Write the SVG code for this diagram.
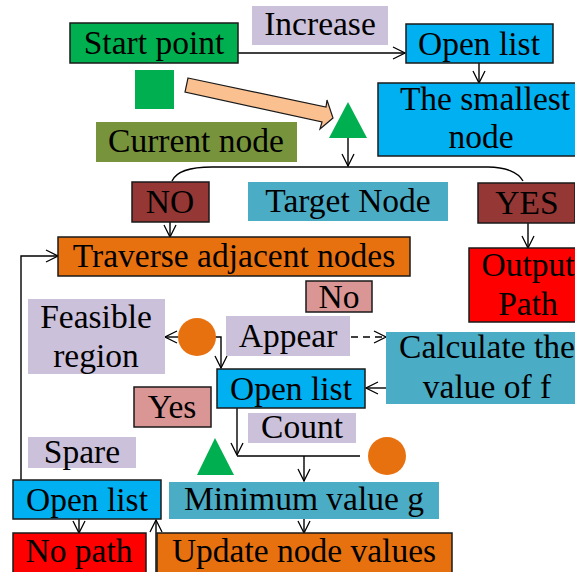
<svg xmlns="http://www.w3.org/2000/svg" width="575" height="572" viewBox="0 0 575 572">
  <defs>
    <marker id="arr" viewBox="0 0 14 14" refX="13" refY="7" markerWidth="14" markerHeight="14" markerUnits="userSpaceOnUse" orient="auto">
      <path d="M1,1 L13,7 L1,13" fill="none" stroke="#000" stroke-width="1.3"/>
    </marker>
    <style>
      text { font-size: 33.5px; fill: #000; text-anchor: middle; }
      .box { stroke: #1a1a1a; stroke-width: 1.5; }
      .green { fill: #00B050; }
      .blue { fill: #00B0F0; }
      .olive { fill: #77933C; }
      .brown { fill: #953735; }
      .teal { fill: #4BACC6; }
      .orange { fill: #E8710F; }
      .red { fill: #FF0000; }
      .lav { fill: #CCC1DA; }
      .pink { fill: #DA9694; }
      .link { fill: none; stroke: #000; stroke-width: 1.4; }
    </style>
  </defs>
  <rect width="575" height="572" fill="#fff"/>

  <!-- connectors -->
  <g id="connectors">
    <path class="link" d="M238,53 H405" marker-end="url(#arr)"/>
    <path class="link" d="M479,63 V83" marker-end="url(#arr)"/>
    <path class="link" d="M348,138 V166" marker-end="url(#arr)"/>
    <path class="link" d="M172,181 C176,172 190,167 212,167 H488 C505,167 518,172 523,181"/>
    <path class="link" d="M170,222 V237" marker-end="url(#arr)"/>
    <path class="link" d="M528,223 V248" marker-end="url(#arr)"/>
    <path class="link" d="M21,480 V256 H58" marker-end="url(#arr)"/>
    <path class="link" d="M178,337 H165" marker-end="url(#arr)"/>
    <path class="link" d="M215,337 H221 V368" marker-end="url(#arr)"/>
    <path class="link" d="M351,337 H386" stroke-dasharray="7,5" marker-end="url(#arr)"/>
    <path class="link" d="M386,388 H366" marker-end="url(#arr)"/>
    <path class="link" d="M237,408 V455" marker-end="url(#arr)"/>
    <path class="link" d="M237,456 H360"/>
    <path class="link" d="M304,456 V481" marker-end="url(#arr)"/>
    <path class="link" d="M304,519 V533" marker-end="url(#arr)"/>
    <path class="link" d="M79,519 V533" marker-end="url(#arr)"/>
    <path class="link" d="M156,572 V520" marker-end="url(#arr)"/>
  </g>

  <!-- decorative shapes -->
  <g id="shapes">
    <rect class="green" x="135" y="70" width="39" height="39"/>
    <polygon points="188,78 326,107 327,100 333,118 320,129 322,122 185,92" fill="#FAC090" stroke="#1a1a1a" stroke-width="1.2"/>
    <polygon class="green" points="348,102 367,138 329,138"/>
    <circle class="orange" cx="197" cy="337" r="19"/>
    <polygon class="green" points="215,438 234,475 197,475"/>
    <circle class="orange" cx="387" cy="456" r="19"/>
  </g>

  <g font-family="'Liberation Serif', 'Times New Roman', Times, serif">
  <g id="start-point">
    <rect class="box green" x="70" y="23" width="168" height="40"/>
    <text x="154" y="54">Start point</text>
  </g>
  <g id="increase">
    <rect class="lav" x="252" y="6" width="136" height="39"/>
    <text x="320" y="35">Increase</text>
  </g>
  <g id="open-list-top">
    <rect class="box blue" x="406" y="24" width="147" height="39"/>
    <text x="479" y="55">Open list</text>
  </g>
  <g id="smallest-node">
    <rect class="box blue" x="378" y="83" width="199" height="73"/>
    <text x="485" y="110">The smallest</text>
    <text x="481" y="148">node</text>
  </g>
  <g id="current-node">
    <rect class="olive" x="96" y="122" width="201" height="40"/>
    <text x="196" y="152">Current node</text>
  </g>
  <g id="no-upper">
    <rect class="box brown" x="132" y="182" width="77" height="40"/>
    <text x="170" y="213">NO</text>
  </g>
  <g id="target-node">
    <rect class="teal" x="248" y="182" width="200" height="39"/>
    <text x="348" y="212">Target Node</text>
  </g>
  <g id="yes-upper">
    <rect class="box brown" x="478" y="183" width="97" height="40"/>
    <text x="527" y="214">YES</text>
  </g>
  <g id="output-path">
    <rect class="box red" x="469" y="248" width="107" height="74"/>
    <text x="528" y="276">Output</text>
    <text x="528" y="315">Path</text>
  </g>
  <g id="traverse">
    <rect class="box orange" x="58" y="237" width="352" height="39"/>
    <text x="234" y="267">Traverse adjacent nodes</text>
  </g>
  <g id="no-lower">
    <rect class="box pink" x="306" y="281" width="66" height="31"/>
    <text x="339" y="308">No</text>
  </g>
  <g id="feasible-region">
    <rect class="lav" x="28" y="299" width="137" height="75"/>
    <text x="96" y="328">Feasible</text>
    <text x="96" y="367">region</text>
  </g>
  <g id="appear">
    <rect class="lav" x="226" y="316" width="124" height="40"/>
    <text x="288" y="347">Appear</text>
  </g>
  <g id="calculate-f">
    <rect class="teal" x="386" y="332" width="190" height="72"/>
    <text x="487" y="358">Calculate the</text>
    <text x="487" y="398">value of f</text>
  </g>
  <g id="open-list-mid">
    <rect class="box blue" x="217" y="369" width="148" height="39"/>
    <text x="291" y="400">Open list</text>
  </g>
  <g id="yes-lower">
    <rect class="box pink" x="134" y="387" width="77" height="40"/>
    <text x="172" y="418">Yes</text>
  </g>
  <g id="count">
    <rect class="lav" x="248" y="413" width="108" height="30"/>
    <text x="302" y="438">Count</text>
  </g>
  <g id="spare">
    <rect class="lav" x="28" y="437" width="108" height="31"/>
    <text x="82" y="463">Spare</text>
  </g>
  <g id="open-list-bottom">
    <rect class="box blue" x="13" y="480" width="148" height="39"/>
    <text x="87" y="511">Open list</text>
  </g>
  <g id="minimum-g">
    <rect class="teal" x="169" y="482" width="270" height="37"/>
    <text x="304" y="510">Minimum value g</text>
  </g>
  <g id="no-path">
    <rect class="box red" x="13" y="533" width="133" height="42"/>
    <text x="79" y="562">No path</text>
  </g>
  <g id="update-values">
    <rect class="box orange" x="157" y="533" width="295" height="42"/>
    <text x="304" y="562">Update node values</text>
  </g>
  </g>
</svg>
